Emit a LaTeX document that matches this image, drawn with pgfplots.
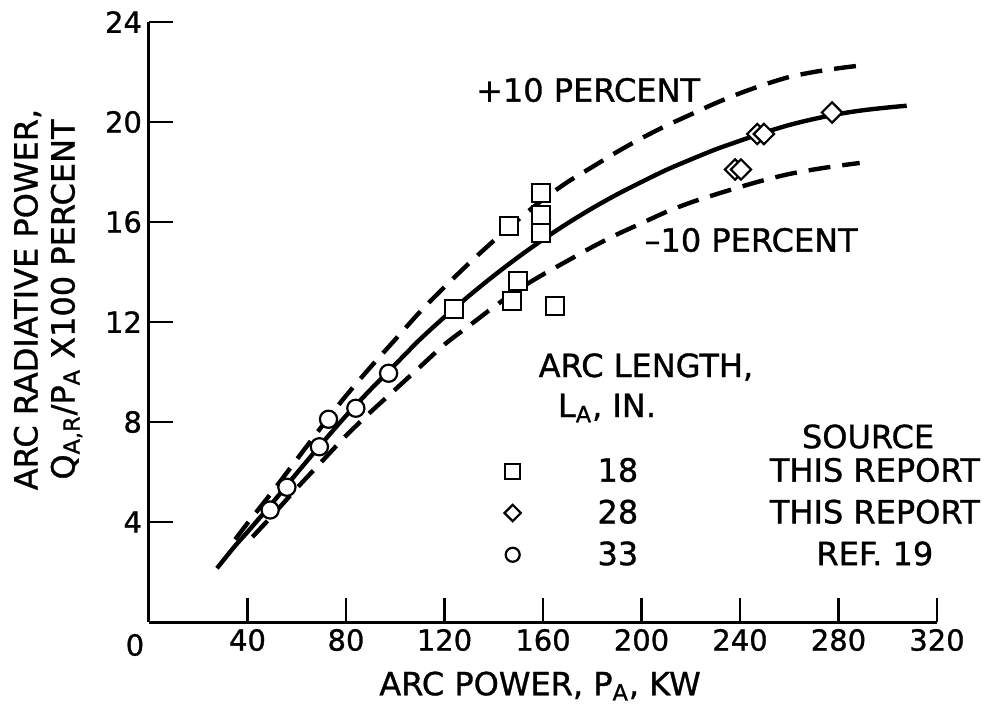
\documentclass[border=0pt]{standalone}
\usepackage{pgfplots}
\pgfplotsset{compat=1.18}
\usepackage{fontspec}
\setmainfont{DejaVu Sans}[FakeBold=1.0]
\newcommand{\fs}{\fontsize{16}{18.5}\selectfont}
\begin{document}
\begin{tikzpicture}
\useasboundingbox (-74.5pt,-42pt) rectangle (420pt,311pt);
\begin{axis}[
  at={(0pt,0pt)}, anchor=south west,
  scale only axis, width=394pt, height=300pt,
  xmin=0, xmax=320, ymin=0, ymax=24,
  axis x line=bottom, axis y line=left,
  axis line style={line width=1.5pt, -},
  xtick={40,80,...,320}, ytick={4,8,...,24},
  tick align=inside, major tick length=12pt,
  tick style={line width=1.2pt, black},
  /pgf/number format/assume math mode=true,
  ticklabel style={font=\fontsize{14.5}{16}\selectfont},
  clip=false,
  legend style={at={(axis cs:144.2,6.74)}, anchor=north west, draw=none, fill=none,
    font=\fs, row sep=3.5pt, inner sep=0pt},
  legend cell align=left,
]
% fitted curve and +-10 percent band
\addplot[forget plot, black, line width=2.2pt, smooth] coordinates {
(27.6,2.15) (35,3.05) (40,3.6) (50,4.75) (60,5.95) (70,7.12) (80,8.25) (90,9.3)
(100,10.3) (110,11.3) (120,12.2) (130,13.05) (140,13.85) (150,14.6) (160,15.3)
(170,15.95) (180,16.55) (190,17.1) (200,17.6) (210,18.08) (220,18.5) (230,18.9)
(240,19.25) (250,19.58) (260,19.88) (270,20.12) (280,20.32) (290,20.47) (300,20.58) (307.7,20.65)};
\addplot[forget plot, black, line width=2.2pt, smooth, dash pattern=on 11pt off 6pt] coordinates {
(35,3.3) (40,3.95) (50,5.2) (60,6.5) (70,7.8) (80,9.05) (90,10.2) (100,11.3) (110,12.4)
(120,13.4) (130,14.35) (140,15.25) (150,16.1) (160,16.9) (170,17.6) (180,18.2) (190,18.8)
(200,19.35) (210,19.85) (220,20.3) (230,20.75) (240,21.15) (250,21.5) (260,21.8) (270,22.0)
(280,22.15) (288,22.25)};
\addplot[forget plot, black, line width=2.2pt, smooth, dash pattern=on 11pt off 6pt] coordinates {
(42,3.4) (50,4.25) (60,5.35) (70,6.4) (80,7.45) (90,8.4) (100,9.3) (110,10.2) (120,11.1)
(130,11.85) (140,12.6) (150,13.3) (160,13.9) (170,14.45) (180,15.0) (190,15.5) (200,15.95)
(210,16.4) (220,16.78) (230,17.1) (240,17.4) (250,17.68) (260,17.92) (270,18.1) (280,18.25) (288.6,18.36)};
% data
\addplot[only marks, mark=square*, mark size=4.5pt,
  mark options={fill=white, draw=black, line width=1.1pt},
  legend image post style={mark size=3.7pt}] coordinates {
(159.2,17.17) (159.2,16.28) (159.2,15.57) (146.1,15.84) (123.7,12.51)
(149.9,13.63) (147.4,12.85) (165.0,12.65)};
\addlegendentry{\makebox[93pt][c]{18}\makebox[164pt][c]{THIS REPORT}}
\addplot[only marks, mark=square*, mark size=3.6pt,
  mark options={rotate=45, fill=white, draw=black, line width=1.1pt},
  legend image post style={mark size=2.9pt}] coordinates {
(247.0,19.52) (249.7,19.52) (277.4,20.38) (238.0,18.1) (240.4,18.1)};
\addlegendentry{\makebox[93pt][c]{28}\makebox[164pt][c]{THIS REPORT}}
\addplot[only marks, mark=*, mark size=4.3pt,
  mark options={fill=white, draw=black, line width=1.1pt},
  legend image post style={mark size=3.5pt}] coordinates {
(49.2,4.48) (56.0,5.39) (69.2,7.01) (72.9,8.11) (84.0,8.55) (97.3,9.95)};
\addlegendentry{\makebox[93pt][c]{33}\makebox[164pt][c]{REF. 19}}
% texts
\node[font=\fontsize{14.5}{16}\selectfont] at (axis cs:-5.7,-0.92) {0};
\node[font=\fs] at (axis cs:178.3,21.28) {+10 PERCENT};
\node[font=\fs] at (axis cs:244.5,15.28) {–10 PERCENT};
\node[font=\fs] at (axis cs:201.8,10.2) {ARC LENGTH,};
\node[font=\fs] at (axis cs:186,8.56) {L\textsubscript{A}, IN.};
\node[font=\fs, inner sep=1pt] at (axis cs:292,7.42) {SOURCE};
\node[font=\fs] at (axis cs:158.8,-2.56) {ARC POWER, P\textsubscript{A}, KW};
\node[font=\fs, rotate=90, align=center] at (axis cs:-41,12.9)
  {ARC RADIATIVE POWER,\\Q\textsubscript{A,R}/P\textsubscript{A} X100 PERCENT};
\end{axis}
\end{tikzpicture}
\end{document}
